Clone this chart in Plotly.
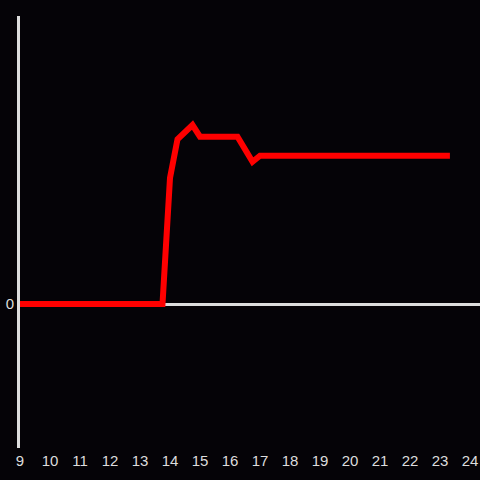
import plotly.graph_objects as go

# hours of day and level (relative units)
hours = [9, 13.75, 14.0, 14.25, 14.75, 15.0, 16.25, 16.75, 17.0, 23.33]
level = [0, 0, 0.875, 1.144, 1.243, 1.162, 1.162, 0.988, 1.03, 1.03]

x_ticks = list(range(9, 25))

bg = "#050307"

fig = go.Figure()
fig.add_trace(go.Scatter(x=hours, y=level, mode="lines",
                         line=dict(color="#ff0000", width=6),
                         hoverinfo="skip"))

fig.update_layout(
    width=480, height=480,
    paper_bgcolor=bg, plot_bgcolor=bg,
    margin=dict(l=20, r=0, t=16, b=32, autoexpand=False),
    showlegend=False,
    font=dict(family="Liberation Sans, Arial, sans-serif", size=15, color="#dddddd"),
)
fig.update_xaxes(range=[9, 24.333], tickvals=x_ticks, showgrid=False,
                 zeroline=False, showline=False, ticks="", ticklabelstandoff=2)
fig.update_yaxes(range=[-1, 2], tickvals=[0], showgrid=False,
                 zeroline=True, zerolinecolor="#dddddd", zerolinewidth=3,
                 showline=True, linecolor="#dddddd", linewidth=3, ticks="")

fig.write_html("out.html", config={"displayModeBar": False},
               post_script="document.body.style.margin='0';")
